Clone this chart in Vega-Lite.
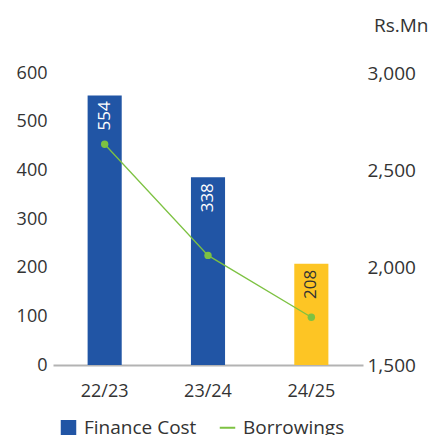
{
  "$schema": "https://vega.github.io/schema/vega-lite/v6.json",
  "autosize": {"type": "none"},
  "width": 310,
  "height": 292,
  "padding": {"left": 53, "top": 73, "right": 66, "bottom": 70},
  "config": {
    "font": "Open Sans",
    "view": {"stroke": null},
    "axis": {"labelFont": "Open Sans", "labelColor": "#333333", "labelFontSize": 18, "ticks": false, "grid": false, "title": null},
    "legend": {"labelFont": "Open Sans", "labelFontSize": 19, "labelColor": "#333333"}
  },
  "data": {
    "values": [
      {"period": "22/23", "finance": 554, "label": "554", "borrowings": 2634},
      {"period": "23/24", "finance": 386, "label": "338", "borrowings": 2063},
      {"period": "24/25", "finance": 208, "label": "208", "borrowings": 1745}
    ]
  },
  "encoding": {
    "x": {
      "field": "period", "type": "nominal", "sort": null,
      "scale": {"paddingInner": 0.67, "paddingOuter": 0.335},
      "axis": {"labelAngle": 0, "domain": true, "domainColor": "#b3b3b3", "domainWidth": 2, "labelPadding": 17, "labelFontSize": 18}
    }
  },
  "layer": [
    {
      "layer": [
        {
          "mark": {"type": "bar"},
          "encoding": {
            "y": {
              "field": "finance", "type": "quantitative",
              "scale": {"domain": [0, 600], "nice": false},
              "axis": {"orient": "left", "values": [0, 100, 200, 300, 400, 500, 600], "domain": false, "labelPadding": 6}
            },
            "color": {
              "condition": {"test": "datum.period === '24/25'", "value": "#FDC524"},
              "datum": "Finance Cost",
              "type": "nominal",
              "scale": {"domain": ["Finance Cost", "Borrowings"], "range": ["#2155A5", "#7DC242"]},
              "legend": {
                "orient": "none", "direction": "horizontal", "title": null,
                "legendX": 6, "legendY": 345,
                "symbolSize": 240, "symbolStrokeWidth": 0, "columnPadding": 18, "labelOffset": 6,
                "encode": {
                  "symbols": {
                    "update": {
                      "shape": {"signal": "datum.value === 'Borrowings' ? 'stroke' : 'square'"},
                      "fill": {"signal": "datum.value === 'Borrowings' ? 'transparent' : '#2155A5'"},
                      "stroke": {"signal": "datum.value === 'Borrowings' ? '#7DC242' : 'transparent'"},
                      "strokeWidth": {"signal": "datum.value === 'Borrowings' ? 2 : 0"}
                    }
                  }
                }
              }
            }
          }
        },
        {
          "mark": {"type": "text", "angle": 270, "align": "right", "baseline": "middle", "dx": -6, "fontSize": 17, "font": "Open Sans"},
          "encoding": {
            "y": {"field": "finance", "type": "quantitative"},
            "text": {"field": "label", "type": "nominal"},
            "color": {
              "condition": {"test": "datum.period === '24/25'", "value": "#333333"},
              "value": "#ffffff"
            }
          }
        }
      ]
    },
    {
      "layer": [
        {
          "mark": {"type": "line", "strokeWidth": 1.3},
          "encoding": {
            "y": {
              "field": "borrowings", "type": "quantitative",
              "scale": {"domain": [1500, 3000], "nice": false},
              "axis": {
                "orient": "right", "values": [1500, 2000, 2500, 3000], "format": ",.0f", "domain": false, "labelPadding": 4, "labelFontSize": 19,
                "title": "Rs.Mn", "titleAngle": 0, "titleAlign": "right", "titleBaseline": "middle",
                "titleX": 65, "titleY": -48, "titleFont": "Open Sans", "titleFontSize": 19, "titleFontWeight": "normal", "titleColor": "#333333"
              }
            },
            "color": {"datum": "Borrowings", "type": "nominal"}
          }
        },
        {
          "mark": {"type": "point", "filled": true, "size": 55, "opacity": 1},
          "encoding": {
            "y": {"field": "borrowings", "type": "quantitative"},
            "color": {"datum": "Borrowings", "type": "nominal"}
          }
        }
      ]
    }
  ],
  "resolve": {"scale": {"y": "independent"}}
}
